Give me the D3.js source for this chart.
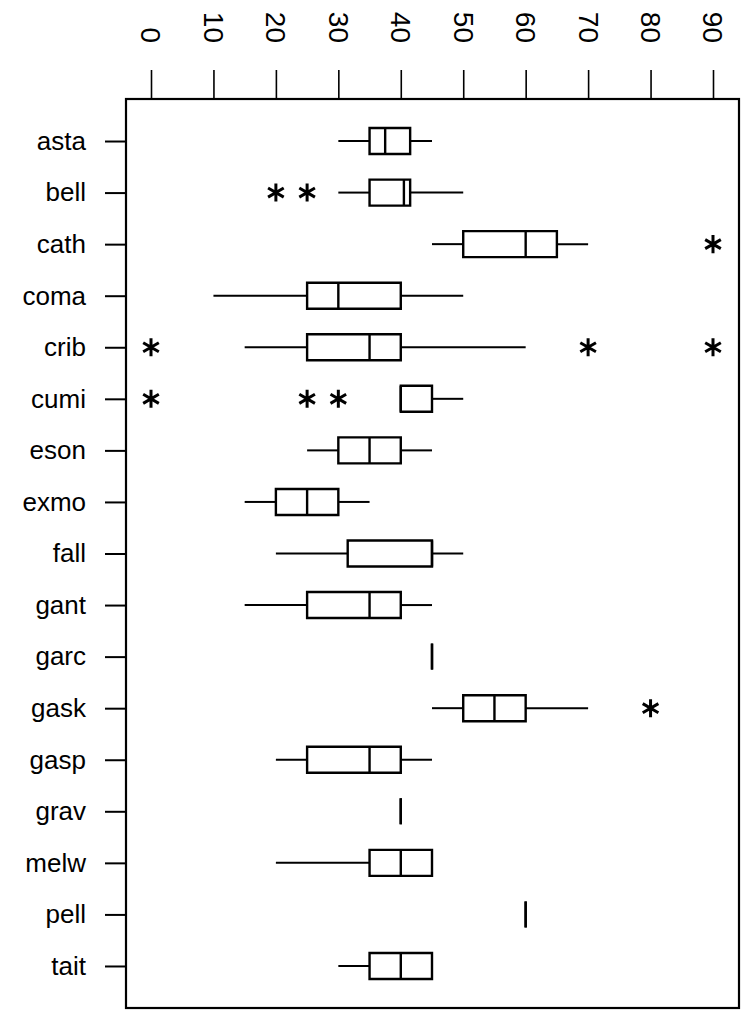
<!DOCTYPE html>
<html>
<head>
<meta charset="utf-8">
<script src="https://cdn.jsdelivr.net/npm/d3@7"></script>
<style>
  html, body { margin: 0; padding: 0; background: #fff; }
  svg { display: block; }
  text { font-family: Arial, "Liberation Sans", sans-serif; fill: #000; }
</style>
</head>
<body>
<svg id="chart" width="751" height="1014"></svg>
<script>
// Sites, top to bottom
const categories = ["asta", "bell", "cath", "coma", "crib", "cumi", "eson", "exmo",
  "fall", "gant", "garc", "gask", "gasp", "grav", "melw", "pell", "tait"];

// Five-number summaries per site
const whiskerLow  = [30, 30, 45, 10, 15, 40, 25, 15, 20,   15, 45, 45, 20, 40, 20, 60, 30];
const quartile1   = [35, 35, 50, 25, 25, 40, 30, 20, 31.5, 25, 45, 50, 25, 40, 35, 60, 35];
const medians     = [37.5, 40.5, 60, 30, 35, 40, 35, 25, 45, 35, 45, 55, 35, 40, 40, 60, 40];
const quartile3   = [41.5, 41.5, 65, 40, 40, 45, 40, 30, 45, 40, 45, 60, 40, 40, 45, 60, 45];
const whiskerHigh = [45, 50, 70, 50, 60, 50, 45, 35, 50, 45, 45, 70, 45, 40, 45, 60, 45];

// Outlying values per site
const outlierSites  = ["bell", "bell", "cath", "crib", "crib", "crib", "cumi", "cumi", "cumi", "gask"];
const outlierValues = [20, 25, 90, 0, 70, 90, 0, 25, 30, 80];

const xTicks = [0, 10, 20, 30, 40, 50, 60, 70, 80, 90];

const svg = d3.select("#chart");
const frame = { left: 126, right: 739, top: 99, bottom: 1008 };

const x = d3.scaleLinear().domain([0, 90]).range([151, 713]);
const y = d3.scalePoint().domain(categories)
  .range([frame.top, frame.bottom]).padding(0.815);

const boxHalf = 13;

// Top value axis
const xAxis = svg.append("g")
  .attr("transform", `translate(0,${frame.top})`)
  .call(d3.axisTop(x).tickValues(xTicks).tickSize(29).tickFormat(d3.format("d")));
xAxis.select(".domain").remove();
xAxis.selectAll(".tick line").attr("stroke", "#000").attr("stroke-width", 1.6);
xAxis.selectAll(".tick text")
  .attr("transform", "translate(0,-56) rotate(90)")
  .attr("x", 0).attr("y", 0)
  .attr("dy", "0.36em")
  .attr("text-anchor", "end")
  .style("font-size", "28px")
  .style("font-family", "Arial, 'Liberation Sans', sans-serif");

// Left category axis
const yAxis = svg.append("g")
  .attr("transform", `translate(${frame.left},0)`)
  .call(d3.axisLeft(y).tickSize(21).tickPadding(19));
yAxis.select(".domain").remove();
yAxis.selectAll(".tick line").attr("stroke", "#000").attr("stroke-width", 2);
yAxis.selectAll(".tick text")
  .style("font-size", "26px")
  .style("font-family", "Arial, 'Liberation Sans', sans-serif");

// Plot frame
svg.append("rect")
  .attr("x", frame.left).attr("y", frame.top)
  .attr("width", frame.right - frame.left)
  .attr("height", frame.bottom - frame.top)
  .attr("fill", "none").attr("stroke", "#000").attr("stroke-width", 2.2);

// Box plots
const rows = categories.map((c, i) => ({
  c, lo: whiskerLow[i], q1: quartile1[i], med: medians[i], q3: quartile3[i], hi: whiskerHigh[i]
}));

const g = svg.append("g").attr("stroke", "#000").attr("fill", "none");

g.selectAll(".wl").data(rows).join("line")
  .attr("x1", d => x(d.lo)).attr("x2", d => x(d.q1))
  .attr("y1", d => y(d.c)).attr("y2", d => y(d.c))
  .attr("stroke-width", 2);

g.selectAll(".wh").data(rows).join("line")
  .attr("x1", d => x(d.q3)).attr("x2", d => x(d.hi))
  .attr("y1", d => y(d.c)).attr("y2", d => y(d.c))
  .attr("stroke-width", 2);

g.selectAll(".box").data(rows).join("path")
  .attr("d", d => {
    const x1 = x(d.q1), x2 = x(d.q3), y0 = y(d.c) - boxHalf, y1 = y(d.c) + boxHalf;
    return `M${x1},${y0}H${x2}V${y1}H${x1}Z`;
  })
  .attr("stroke-width", 2.4);

g.selectAll(".med").data(rows).join("line")
  .attr("x1", d => x(d.med)).attr("x2", d => x(d.med))
  .attr("y1", d => y(d.c) - boxHalf).attr("y2", d => y(d.c) + boxHalf)
  .attr("stroke-width", 2.4);

// Outliers as asterisks
const star = d3.symbol().type(d3.symbolAsterisk).size(230);
svg.append("g").selectAll("path")
  .data(outlierSites.map((s, i) => ({ s, v: outlierValues[i] })))
  .join("path")
  .attr("transform", d => `translate(${x(d.v)},${y(d.s)})`)
  .attr("d", star)
  .attr("fill", "none").attr("stroke", "#000").attr("stroke-width", 3);
</script>
</body>
</html>
